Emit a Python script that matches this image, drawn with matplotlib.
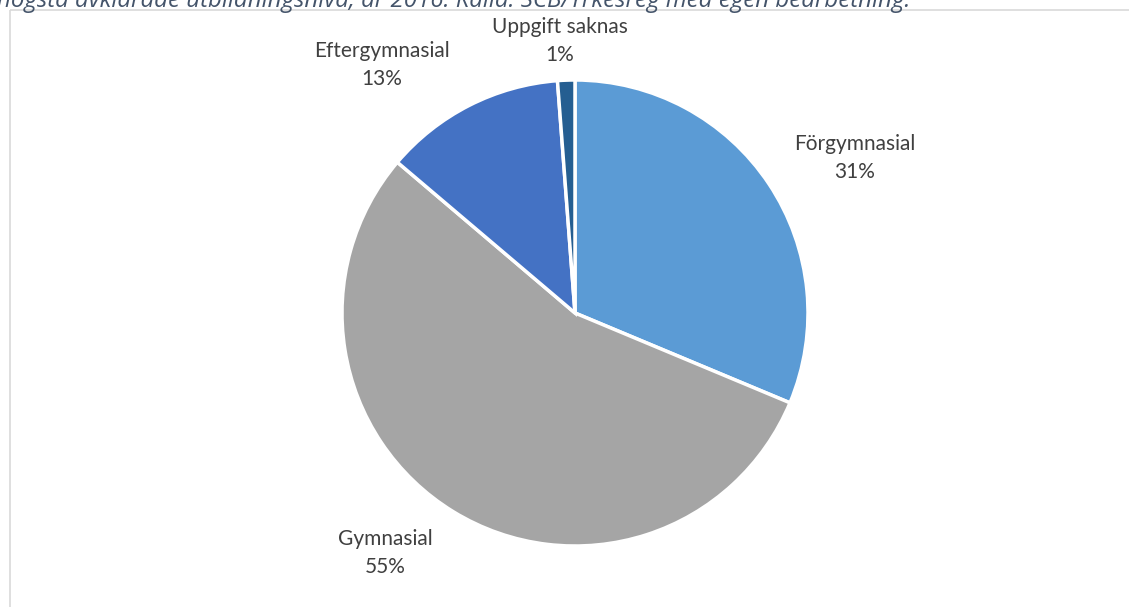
import matplotlib
matplotlib.use("Agg")
import matplotlib.pyplot as plt
from matplotlib.patches import Rectangle

categories = ["Förgymnasial", "Gymnasial", "Eftergymnasial", "Uppgift saknas"]
values = [31.3, 54.9, 12.6, 1.2]
pct_labels = ["31%", "55%", "13%", "1%"]
colors = ["#5B9BD5", "#A5A5A5", "#4472C4", "#255E91"]
caption = "högsta avklarade utbildningsnivå, år 2016. Källa: SCB/Yrkesreg med egen bearbetning."

W, H = 1129, 607
fig = plt.figure(figsize=(W / 100, H / 100), dpi=100)
ax = fig.add_axes([0, 0, 1, 1])

# pie (y axis inverted below so slices run clockwise from the top)
wedges, _ = ax.pie(values, colors=colors, startangle=-90, counterclock=True,
                   radius=233, center=(575, 313), frame=True,
                   wedgeprops=dict(edgecolor="white", linewidth=2.5))
ax.set_xlim(0, W)
ax.set_ylim(H, 0)
ax.set_aspect("equal")
ax.axis("off")

# chart frame
ax.add_patch(Rectangle((10, 10), W + 20, H + 20, fill=False, edgecolor="#D9D9D9", lw=1.2))

# caption (clipped at top, as in the reference)
ax.text(-3, 7, caption, fontsize=17.3, style="italic", color="#44546A",
        family="Open Sans", va="baseline", ha="left")

label_pos = [(855, 158), (385, 553), (382, 65), (560, 41)]
for cat, pct, (x, y) in zip(categories, pct_labels, label_pos):
    ax.text(x, y, cat + "\n" + pct, ha="center", va="center", fontsize=15,
            color="#404040", family="Lato", linespacing=1.45)

fig.savefig("out.png", dpi=100)
